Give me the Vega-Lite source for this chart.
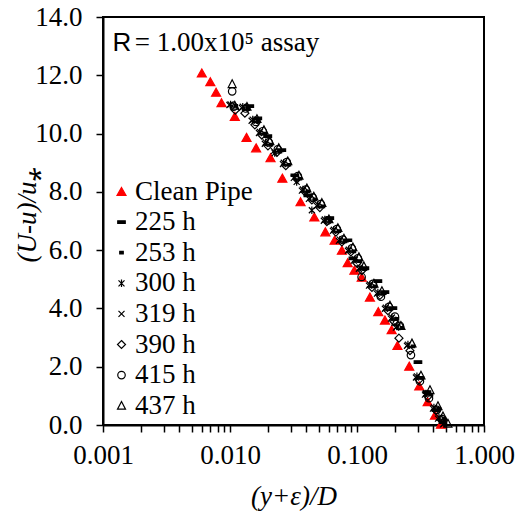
{
  "$schema": "https://vega.github.io/schema/vega-lite/v6.json",
  "width": 381,
  "height": 408,
  "autosize": {"type": "none"},
  "padding": {"left": 103, "top": 17, "right": 37, "bottom": 89},
  "background": "white",
  "config": {
    "view": {"stroke": "black", "strokeWidth": 2},
    "font": "Liberation Serif",
    "axis": {
      "domainColor": "black", "domainWidth": 2, "tickColor": "black", "tickWidth": 1.5, "tickSize": 7,
      "labelFont": "Liberation Serif", "labelFontSize": 27, "labelColor": "black",
      "titleFont": "Liberation Serif", "titleFontSize": 27, "titleFontStyle": "italic", "titleFontWeight": "normal", "titleColor": "black",
      "grid": false, "labelFlush": false
    },
    "legend": {
      "labelFont": "Liberation Serif", "labelFontSize": 27, "labelColor": "black"
    }
  },
  "datasets": {
    "pts": [
      {"s":"Clean Pipe","x":0.0060,"y":12.08},{"s":"Clean Pipe","x":0.0070,"y":11.78},{"s":"Clean Pipe","x":0.00777,"y":11.42},{"s":"Clean Pipe","x":0.00857,"y":11.06},{"s":"Clean Pipe","x":0.01091,"y":10.59},{"s":"Clean Pipe","x":0.01349,"y":9.87},{"s":"Clean Pipe","x":0.01606,"y":9.51},{"s":"Clean Pipe","x":0.02085,"y":9.17},{"s":"Clean Pipe","x":0.02583,"y":8.47},{"s":"Clean Pipe","x":0.03594,"y":7.66},{"s":"Clean Pipe","x":0.04616,"y":7.14},{"s":"Clean Pipe","x":0.05636,"y":6.63},{"s":"Clean Pipe","x":0.06662,"y":6.34},{"s":"Clean Pipe","x":0.07603,"y":6.00},{"s":"Clean Pipe","x":0.08446,"y":5.57},{"s":"Clean Pipe","x":0.09539,"y":5.31},{"s":"Clean Pipe","x":0.1089,"y":5.07},{"s":"Clean Pipe","x":0.1264,"y":4.39},{"s":"Clean Pipe","x":0.1470,"y":3.89},{"s":"Clean Pipe","x":0.1660,"y":3.60},{"s":"Clean Pipe","x":0.1874,"y":3.27},{"s":"Clean Pipe","x":0.2082,"y":2.73},{"s":"Clean Pipe","x":0.2578,"y":2.02},{"s":"Clean Pipe","x":0.3092,"y":1.34},{"s":"Clean Pipe","x":0.3601,"y":0.80},{"s":"Clean Pipe","x":0.4111,"y":0.34},{"s":"Clean Pipe","x":0.4583,"y":0.03},

      {"s":"225 h","x":0.01432,"y":10.94},{"s":"225 h","x":0.01656,"y":10.52},{"s":"225 h","x":0.01986,"y":9.91},{"s":"225 h","x":0.0256,"y":9.43},{"s":"225 h","x":0.0324,"y":8.57},{"s":"225 h","x":0.0410,"y":7.88},{"s":"225 h","x":0.0611,"y":7.10},{"s":"225 h","x":0.0848,"y":6.34},{"s":"225 h","x":0.0928,"y":5.72},{"s":"225 h","x":0.1154,"y":5.38},{"s":"225 h","x":0.1461,"y":4.94},{"s":"225 h","x":0.1660,"y":4.56},{"s":"225 h","x":0.1918,"y":4.01},{"s":"225 h","x":0.3020,"y":2.16},{"s":"225 h","x":0.3554,"y":1.13},{"s":"225 h","x":0.4185,"y":0.51},{"s":"225 h","x":0.4753,"y":0.10},

      {"s":"253 h","x":0.0111,"y":10.95},{"s":"253 h","x":0.0138,"y":10.85},{"s":"253 h","x":0.0166,"y":10.40},{"s":"253 h","x":0.0188,"y":10.00},{"s":"253 h","x":0.0210,"y":9.62},{"s":"253 h","x":0.0247,"y":9.38},{"s":"253 h","x":0.0291,"y":8.93},{"s":"253 h","x":0.0355,"y":8.45},{"s":"253 h","x":0.0410,"y":8.02},{"s":"253 h","x":0.0466,"y":7.74},{"s":"253 h","x":0.0539,"y":7.50},{"s":"253 h","x":0.0611,"y":7.00},{"s":"253 h","x":0.0720,"y":6.65},{"s":"253 h","x":0.0803,"y":6.30},{"s":"253 h","x":0.0945,"y":5.96},{"s":"253 h","x":0.1054,"y":5.62},{"s":"253 h","x":0.1154,"y":5.35},{"s":"253 h","x":0.1384,"y":4.76},{"s":"253 h","x":0.1600,"y":4.50},{"s":"253 h","x":0.1850,"y":3.98},{"s":"253 h","x":0.2063,"y":3.64},{"s":"253 h","x":0.2259,"y":3.33},{"s":"253 h","x":0.2758,"y":2.70},{"s":"253 h","x":0.3247,"y":1.62},{"s":"253 h","x":0.3824,"y":1.04},{"s":"253 h","x":0.4419,"y":0.55},{"s":"253 h","x":0.4840,"y":0.22},

      {"s":"300 h","x":0.0101,"y":11.00},{"s":"300 h","x":0.0126,"y":10.92},{"s":"300 h","x":0.0151,"y":10.48},{"s":"300 h","x":0.0172,"y":10.06},{"s":"300 h","x":0.0191,"y":9.70},{"s":"300 h","x":0.0225,"y":9.33},{"s":"300 h","x":0.0265,"y":9.00},{"s":"300 h","x":0.0335,"y":8.34},{"s":"300 h","x":0.0375,"y":8.08},{"s":"300 h","x":0.0441,"y":7.37},{"s":"300 h","x":0.0492,"y":7.56},{"s":"300 h","x":0.0558,"y":7.05},{"s":"300 h","x":0.0657,"y":6.70},{"s":"300 h","x":0.0733,"y":6.36},{"s":"300 h","x":0.0863,"y":6.02},{"s":"300 h","x":0.0962,"y":5.68},{"s":"300 h","x":0.1054,"y":5.40},{"s":"300 h","x":0.1264,"y":4.82},{"s":"300 h","x":0.1460,"y":4.55},{"s":"300 h","x":0.1689,"y":4.03},{"s":"300 h","x":0.1884,"y":3.69},{"s":"300 h","x":0.2062,"y":3.38},{"s":"300 h","x":0.2518,"y":2.76},{"s":"300 h","x":0.2964,"y":1.67},{"s":"300 h","x":0.3491,"y":1.08},{"s":"300 h","x":0.4034,"y":0.60},{"s":"300 h","x":0.4418,"y":0.26},{"s":"300 h","x":0.4837,"y":0.05},

      {"s":"319 h","x":0.0099,"y":10.98},{"s":"319 h","x":0.0124,"y":10.88},{"s":"319 h","x":0.0148,"y":10.44},{"s":"319 h","x":0.0169,"y":10.02},{"s":"319 h","x":0.0188,"y":9.65},{"s":"319 h","x":0.0221,"y":9.40},{"s":"319 h","x":0.0261,"y":8.95},{"s":"319 h","x":0.0318,"y":8.48},{"s":"319 h","x":0.0368,"y":8.04},{"s":"319 h","x":0.0418,"y":7.76},{"s":"319 h","x":0.0483,"y":7.52},{"s":"319 h","x":0.0548,"y":7.01},{"s":"319 h","x":0.0646,"y":6.66},{"s":"319 h","x":0.0720,"y":6.32},{"s":"319 h","x":0.0848,"y":5.98},{"s":"319 h","x":0.0945,"y":5.64},{"s":"319 h","x":0.1035,"y":5.36},{"s":"319 h","x":0.1242,"y":4.78},{"s":"319 h","x":0.1435,"y":4.51},{"s":"319 h","x":0.1659,"y":3.99},{"s":"319 h","x":0.1850,"y":3.65},{"s":"319 h","x":0.2026,"y":3.34},{"s":"319 h","x":0.2474,"y":2.72},{"s":"319 h","x":0.2912,"y":1.63},{"s":"319 h","x":0.3429,"y":1.04},{"s":"319 h","x":0.3963,"y":0.56},{"s":"319 h","x":0.4340,"y":0.22},{"s":"319 h","x":0.4752,"y":0.02},

      {"s":"390 h","x":0.0110,"y":10.80},{"s":"390 h","x":0.0131,"y":10.70},{"s":"390 h","x":0.0157,"y":10.30},{"s":"390 h","x":0.0178,"y":9.95},{"s":"390 h","x":0.0199,"y":9.58},{"s":"390 h","x":0.0234,"y":9.35},{"s":"390 h","x":0.0275,"y":8.90},{"s":"390 h","x":0.0336,"y":8.44},{"s":"390 h","x":0.0389,"y":8.00},{"s":"390 h","x":0.0441,"y":7.72},{"s":"390 h","x":0.0510,"y":7.46},{"s":"390 h","x":0.0579,"y":6.98},{"s":"390 h","x":0.0682,"y":6.62},{"s":"390 h","x":0.0760,"y":6.28},{"s":"390 h","x":0.0895,"y":5.94},{"s":"390 h","x":0.0998,"y":5.55},{"s":"390 h","x":0.1093,"y":5.30},{"s":"390 h","x":0.1311,"y":4.72},{"s":"390 h","x":0.1515,"y":4.45},{"s":"390 h","x":0.1752,"y":3.92},{"s":"390 h","x":0.1954,"y":3.55},{"s":"390 h","x":0.2139,"y":2.98},{"s":"390 h","x":0.2612,"y":2.55},{"s":"390 h","x":0.3075,"y":1.55},{"s":"390 h","x":0.3621,"y":0.98},{"s":"390 h","x":0.4185,"y":0.50},{"s":"390 h","x":0.4583,"y":0.18},

      {"s":"415 h","x":0.0104,"y":11.45},{"s":"415 h","x":0.0107,"y":10.92},{"s":"415 h","x":0.0133,"y":10.86},{"s":"415 h","x":0.0160,"y":10.40},{"s":"415 h","x":0.0181,"y":10.08},{"s":"415 h","x":0.0202,"y":9.70},{"s":"415 h","x":0.0238,"y":9.46},{"s":"415 h","x":0.0280,"y":9.02},{"s":"415 h","x":0.0342,"y":8.54},{"s":"415 h","x":0.0396,"y":8.08},{"s":"415 h","x":0.0449,"y":7.80},{"s":"415 h","x":0.0519,"y":7.58},{"s":"415 h","x":0.0590,"y":7.02},{"s":"415 h","x":0.0694,"y":6.72},{"s":"415 h","x":0.0774,"y":6.36},{"s":"415 h","x":0.0911,"y":6.06},{"s":"415 h","x":0.1016,"y":5.72},{"s":"415 h","x":0.1087,"y":5.08},{"s":"415 h","x":0.1335,"y":4.84},{"s":"415 h","x":0.1542,"y":4.40},{"s":"415 h","x":0.1784,"y":4.05},{"s":"415 h","x":0.1989,"y":3.72},{"s":"415 h","x":0.2177,"y":3.40},{"s":"415 h","x":0.2659,"y":2.40},{"s":"415 h","x":0.3130,"y":1.50},{"s":"415 h","x":0.3686,"y":0.92},{"s":"415 h","x":0.4260,"y":0.52},{"s":"415 h","x":0.4666,"y":0.20},

      {"s":"437 h","x":0.0104,"y":11.70},{"s":"437 h","x":0.0109,"y":10.96},{"s":"437 h","x":0.0136,"y":10.92},{"s":"437 h","x":0.0163,"y":10.50},{"s":"437 h","x":0.0185,"y":10.12},{"s":"437 h","x":0.0206,"y":9.74},{"s":"437 h","x":0.0242,"y":9.50},{"s":"437 h","x":0.0285,"y":9.05},{"s":"437 h","x":0.0349,"y":8.56},{"s":"437 h","x":0.0403,"y":8.12},{"s":"437 h","x":0.0457,"y":7.84},{"s":"437 h","x":0.0529,"y":7.62},{"s":"437 h","x":0.0601,"y":7.06},{"s":"437 h","x":0.0707,"y":6.76},{"s":"437 h","x":0.0789,"y":6.40},{"s":"437 h","x":0.0928,"y":6.10},{"s":"437 h","x":0.1035,"y":5.76},{"s":"437 h","x":0.1133,"y":5.45},{"s":"437 h","x":0.1360,"y":4.85},{"s":"437 h","x":0.1571,"y":4.60},{"s":"437 h","x":0.1817,"y":4.10},{"s":"437 h","x":0.2026,"y":3.55},{"s":"437 h","x":0.2218,"y":3.40},{"s":"437 h","x":0.2709,"y":2.80},{"s":"437 h","x":0.3189,"y":1.70},{"s":"437 h","x":0.3755,"y":1.20},{"s":"437 h","x":0.4340,"y":0.65},{"s":"437 h","x":0.4752,"y":0.30},{"s":"437 h","x":0.5200,"y":0.05}
    ]
  },
  "layer": [
    {
      "data": {"name": "pts"},
      "mark": {"type": "point", "size": 100, "strokeWidth": 1.2, "opacity": 1},
      "encoding": {
        "x": {
          "field": "x", "type": "quantitative",
          "scale": {"type": "log", "domain": [0.001, 1], "nice": false},
          "axis": {
            "title": "(y+ε)/D",
            "values": [0.001,0.002,0.003,0.004,0.005,0.006,0.007,0.008,0.009,0.01,0.02,0.03,0.04,0.05,0.06,0.07,0.08,0.09,0.1,0.2,0.3,0.4,0.5,0.6,0.7,0.8,0.9,1],
            "format": ".3f",
            "labelExpr": "(datum.value == 0.001 || datum.value == 0.01 || datum.value == 0.1 || datum.value == 1) ? datum.label : ''",
            "labelOverlap": false,
            "labelPadding": 10,
            "titleY": 79,
            "titleBaseline": "alphabetic"
          }
        },
        "y": {
          "field": "y", "type": "quantitative",
          "scale": {"domain": [0, 14], "nice": false},
          "axis": {
            "title": "(U-u)/u⁎",
            "values": [0,2,4,6,8,10,12,14],
            "format": ".1f",
            "labelPadding": 14,
            "titleX": -68,
            "titleY": 197,
            "titleBaseline": "alphabetic"
          }
        },
        "shape": {
          "field": "s", "type": "nominal",
          "scale": {
            "domain": ["Clean Pipe","225 h","253 h","300 h","319 h","390 h","415 h","437 h"],
            "range": [
              "M0,-0.8L0.9,0.8L-0.9,0.8Z",
              "M-0.75,-0.25L0.75,-0.25L0.75,0.25L-0.75,0.25Z",
              "M-0.35,-0.25L0.35,-0.25L0.35,0.25L-0.35,0.25Z",
              "M-0.6,-0.6L0.6,0.6M-0.6,0.6L0.6,-0.6M0,-0.75L0,0.75",
              "M-0.6,-0.6L0.6,0.6M-0.6,0.6L0.6,-0.6",
              "M0,-0.8L0.8,0L0,0.8L-0.8,0Z",
              "M0.75,0A0.75,0.75 0 1,1 -0.75,0A0.75,0.75 0 1,1 0.75,0Z",
              "M0,-0.85L0.8,0.7L-0.8,0.7Z"
            ]
          },
          "legend": {
            "title": null,
            "orient": "none",
            "legendX": 5,
            "legendY": 161,
            "padding": 0,
            "rowPadding": 2.6,
            "labelOffset": 0,
            "symbolSize": 100,
            "symbolStrokeWidth": 1.2
          }
        },
        "fill": {
          "field": "s", "type": "nominal",
          "scale": {
            "domain": ["Clean Pipe","225 h","253 h","300 h","319 h","390 h","415 h","437 h"],
            "range": ["#ff0000","black","black","transparent","transparent","transparent","transparent","transparent"]
          },
          "legend": {"title": null}
        },
        "stroke": {
          "field": "s", "type": "nominal",
          "scale": {
            "domain": ["Clean Pipe","225 h","253 h","300 h","319 h","390 h","415 h","437 h"],
            "range": ["#ff0000","black","black","black","black","black","black","black"]
          },
          "legend": {"title": null}
        }
      }
    },
    {
      "data": {"values": [{"t": "R", "x": 0.00119, "y": 12.83}]},
      "mark": {"type": "text", "font": "Liberation Sans", "fontSize": 26, "align": "left", "baseline": "alphabetic", "color": "black"},
      "encoding": {
        "x": {"field": "x", "type": "quantitative"},
        "y": {"field": "y", "type": "quantitative"},
        "text": {"field": "t"}
      }
    },
    {
      "data": {"values": [{"t": "= 1.00x10⁵ assay", "x": 0.00178, "y": 12.83}]},
      "mark": {"type": "text", "font": "Liberation Serif", "fontSize": 27, "align": "left", "baseline": "alphabetic", "color": "black"},
      "encoding": {
        "x": {"field": "x", "type": "quantitative"},
        "y": {"field": "y", "type": "quantitative"},
        "text": {"field": "t"}
      }
    }
  ]
}
